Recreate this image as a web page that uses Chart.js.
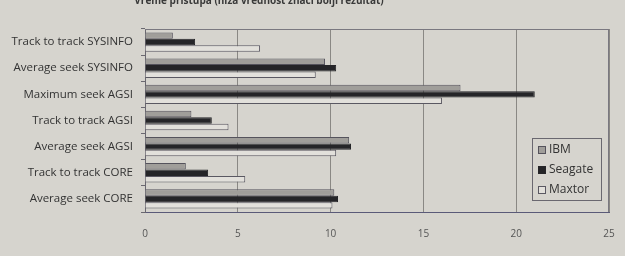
<!DOCTYPE html>
<html>
<head>
<meta charset="utf-8">
<script src="https://cdn.jsdelivr.net/npm/chart.js@4"></script>
<style>
  html, body { margin: 0; padding: 0; background: #d6d4ce; }
  #wrap { width: 625px; height: 256px; position: relative; }
</style>
</head>
<body>
<div id="wrap"><canvas id="chart" width="625" height="256"></canvas></div>
<script>
  var titleText = 'Vreme pristupa (niža vrednost znači bolji rezultat)';
  var categories = [
    'Track to track SYSINFO',
    'Average seek SYSINFO',
    'Maximum seek AGSI',
    'Track to track AGSI',
    'Average seek AGSI',
    'Track to track CORE',
    'Average seek CORE'
  ];
  var seriesNames = ['IBM', 'Seagate', 'Maxtor'];
  var ibmValues = [1.5, 9.7, 17.0, 2.5, 11.0, 2.2, 10.2];
  var seagateValues = [2.7, 10.3, 21.0, 3.6, 11.1, 3.4, 10.4];
  var maxtorValues = [6.2, 9.2, 16.0, 4.5, 10.3, 5.4, 10.1];
  var xTicks = [0, 5, 10, 15, 20, 25];

  var fontFamily = '"Open Sans", "DejaVu Sans", sans-serif';

  // title sits half cut off at the top edge, like the scan
  var titlePlugin = {
    id: 'cutTitle',
    afterDraw: function (chart) {
      var ctx = chart.ctx;
      ctx.save();
      ctx.font = 'bold 10px ' + fontFamily;
      ctx.fillStyle = '#3a3a3a';
      ctx.textAlign = 'center';
      ctx.textBaseline = 'middle';
      ctx.fillText(titleText, 259, 1);
      ctx.restore();
    }
  };

  // legend box drawn inside the plot, lower right
  var boxLegend = {
    id: 'boxLegend',
    afterDraw: function (chart) {
      var ctx = chart.ctx;
      var x = 532, y = 138, w = 69, h = 62;
      ctx.save();
      ctx.fillStyle = '#d6d4ce';
      ctx.fillRect(x, y, w, h);
      ctx.strokeStyle = '#6a6870';
      ctx.lineWidth = 1;
      ctx.strokeRect(x + 0.5, y + 0.5, w, h);
      ctx.font = '12px ' + fontFamily;
      ctx.textBaseline = 'middle';
      chart.data.datasets.forEach(function (ds, i) {
        var cy = y + 12 + i * 20;
        ctx.fillStyle = ds.backgroundColor;
        ctx.fillRect(x + 6, cy - 4, 8, 8);
        ctx.strokeStyle = ds.borderColor;
        ctx.strokeRect(x + 6.5, cy - 3.5, 7, 7);
        ctx.fillStyle = '#333333';
        ctx.fillText(ds.label, x + 17, cy);
      });
      ctx.restore();
    }
  };

  new Chart(document.getElementById('chart').getContext('2d'), {
    type: 'bar',
    data: {
      labels: categories,
      datasets: [
        { label: seriesNames[0], data: ibmValues, backgroundColor: '#a09e9a', borderColor: '#55535c', borderWidth: 1 },
        { label: seriesNames[1], data: seagateValues, backgroundColor: '#252528', borderColor: '#252528', borderWidth: 1 },
        { label: seriesNames[2], data: maxtorValues, backgroundColor: '#e2e0db', borderColor: '#5a5862', borderWidth: 1 }
      ]
    },
    options: {
      indexAxis: 'y',
      responsive: false,
      animation: false,
      layout: { padding: { top: 29, right: 16, left: 0, bottom: 0 } },
      datasets: { bar: { categoryPercentage: 0.74, barPercentage: 1.0 } },
      plugins: {
        legend: { display: false },
        tooltip: { enabled: false }
      },
      scales: {
        x: {
          min: 0,
          max: 25,
          afterBuildTicks: function (scale) {
            scale.ticks = xTicks.map(function (v) { return { value: v }; });
          },
          afterFit: function (scale) {
            scale.height = 44;
            scale.paddingLeft = 0;
            scale.paddingRight = 0;
          },
          border: { display: true, color: '#5a5a78', width: 1 },
          grid: { color: '#8a8884', drawTicks: false },
          ticks: { padding: 16, color: '#555555', font: { family: fontFamily, size: 10 } }
        },
        y: {
          afterFit: function (scale) { scale.width = 145; },
          border: { display: true, color: '#6a6870' },
          grid: { display: true, drawOnChartArea: false, tickLength: 4, color: '#6a6870' },
          ticks: { padding: 8, color: '#333333', font: { family: fontFamily, size: 11.5 } }
        }
      }
    },
    plugins: [titlePlugin, boxLegend, {
      id: 'frame',
      afterDatasetsDraw: function (chart) {
        var a = chart.chartArea, ctx = chart.ctx;
        ctx.save();
        ctx.strokeStyle = '#7a7880';
        ctx.lineWidth = 1;
        ctx.beginPath();
        ctx.moveTo(a.left, a.top + 0.5);
        ctx.lineTo(a.right, a.top + 0.5);
        ctx.moveTo(a.right - 0.5, a.top);
        ctx.lineTo(a.right - 0.5, a.bottom);
        ctx.stroke();
        ctx.restore();
      }
    }]
  });
</script>
</body>
</html>
